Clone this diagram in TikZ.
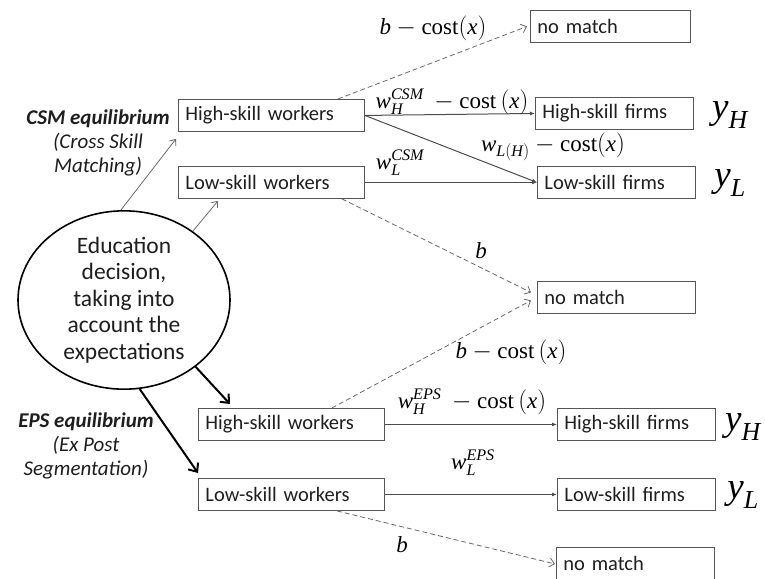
\documentclass[tikz,border=0pt]{standalone}
\usepackage{amsmath}
\usepackage{fontspec}
\setmainfont{Carlito}
\newfontfamily\lser{Liberation Serif}
\usetikzlibrary{shapes.geometric,arrows.meta}
\newcommand\mi[1]{\text{\lser\itshape #1}}
\newcommand\mr[1]{\text{\lser #1}}
\definecolor{boxc}{HTML}{555555}
\definecolor{txtc}{HTML}{1E1E1E}
\definecolor{arrc}{HTML}{6A6A6A}
\begin{document}
\begin{tikzpicture}[x=1pt,y=-1pt,
  box/.style={draw=boxc, line width=0.9pt, anchor=north west, minimum height=32pt,
    inner xsep=7pt, inner ysep=0pt, align=left, text=txtc, font=\fontsize{20.5}{24}\selectfont},
  wbox/.style={box, text width=172pt},
  fbox/.style={box, text width=144pt},
  lab/.style={text=black, font=\fontsize{23}{27}\selectfont, inner sep=0pt},
  ylab/.style={text=black, font=\fontsize{37}{42}\selectfont, inner sep=0pt},
  eq/.style={text=txtc, font=\fontsize{21}{24}\selectfont\itshape, align=center, inner sep=0pt},
  thin/.style={draw=arrc, line width=0.8pt, -{Straight Barb[length=5pt,width=8pt]}},
  dsh/.style={draw=arrc, line width=0.8pt, dash pattern=on 5pt off 3pt, -{Straight Barb[length=5pt,width=9pt]}},
  sol/.style={line width=1pt, -{Latex[length=5pt,width=4pt]}, draw=black!70},
  thick/.style={draw=black, line width=2pt, -{Straight Barb[length=7pt,width=12pt]}}
]
\useasboundingbox (0,0) rectangle (765,578);

% ellipse
\node[draw=black, line width=1.6pt, ellipse, minimum width=212pt, minimum height=176pt,
  align=center, text=txtc, font=\fontsize{23.5}{26.5}\selectfont, inner sep=0pt] (edu) at (124,300)
  {Education\\decision,\\taking into\\account the\\expectations};

% CSM boxes
\node[box, text width=146pt] (nm1) at (530,10) {no match};
\node[wbox] (hw1) at (178,99) {High-skill workers};
\node[fbox] (hf1) at (535,97) {High-skill firms};
\node[wbox] (lw1) at (178,166) {Low-skill workers};
\node[fbox] (lf1) at (537,166) {Low-skill firms};
\node[fbox] (nm2) at (537,281) {no match};

% EPS boxes
\node[wbox] (hw2) at (198,408) {High-skill workers};
\node[fbox] (hf2) at (557,408) {High-skill firms};
\node[wbox] (lw2) at (198,478) {Low-skill workers};
\node[fbox] (lf2) at (557,478) {Low-skill firms};
\node[fbox, minimum height=33pt] (nm3) at (556,547) {no match};

% equilibrium labels
\node[eq] (csm) at (98,143) {\bfseries CSM equilibrium\\(Cross Skill\\Matching)};
\node[eq] (eps) at (86,446) {\bfseries EPS equilibrium\\(Ex Post\\Segmentation)};

% arrows from ellipse
\draw[thin] (edu.92) -- ([xshift=-2pt,yshift=-7pt]hw1.south west);
\draw[thin] (edu.45) -- ([xshift=40pt,yshift=-2pt]lw1.south west);
\draw[thick] (edu.-43) -- ([xshift=32pt,yshift=4pt]hw2.north west);
\draw[thick] (edu.-80) -- ([yshift=5pt]lw2.north west);

% CSM connectors
\draw[dsh] ([xshift=-27pt]hw1.north east) -- ([xshift=-3pt]nm1.west);
\draw[sol] (hw1.east) -- (hf1.west);
\draw[sol] (hw1.east) -- (lf1.west);
\draw[sol] (lw1.east) -- (lf1.west);
\draw[dsh] ([xshift=-23pt]lw1.south east) -- ([xshift=-6pt,yshift=5pt]nm2.west);

% EPS connectors
\draw[dsh] ([xshift=-53pt]hw2.north east) -- ([xshift=-6pt,yshift=-3pt]nm2.west);
\draw[sol] (hw2.east) -- (hf2.west);
\draw[sol] (lw2.east) -- (lf2.west);
\draw[dsh] ([xshift=-48pt]lw2.south east) -- ([xshift=-1pt]nm3.west);

% labels
\node[lab] (l1) at (433,28) {$\mi{b} - \mr{cost}(\mi{x})$};
\node[lab] (l2) at (452,102) {$\mi{w}_{\mi{H}}^{\mi{CSM}}\ - \mr{cost}\,(\mi{x})$};
\node[lab] (l3) at (553,147) {$\mi{w}_{\mi{L}(\mi{H})} - \mr{cost}(\mi{x})$};
\node[lab] (l4) at (400,163) {$\mi{w}_{\mi{L}}^{\mi{CSM}}$};
\node[lab] (l5) at (481,251) {$\mi{b}$};
\node[lab] (l6) at (511,352) {$\mi{b} - \mr{cost}\,(\mi{x})$};
\node[lab] (l7) at (472,402) {$\mi{w}_{\mi{H}}^{\mi{EPS}}\ - \mr{cost}\,(\mi{x})$};
\node[lab] (l8) at (473,463) {$\mi{w}_{\mi{L}}^{\mi{EPS}}$};
\node[lab] (l9) at (402,545) {$\mi{b}$};

\node[ylab] (y1) at (730,115) {$\mi{y}_{\mi{H}}$};
\node[ylab] (y2) at (730,183) {$\mi{y}_{\mi{L}}$};
\node[ylab] (y3) at (743,427) {$\mi{y}_{\mi{H}}$};
\node[ylab] (y4) at (743,495) {$\mi{y}_{\mi{L}}$};
\end{tikzpicture}
\end{document}
